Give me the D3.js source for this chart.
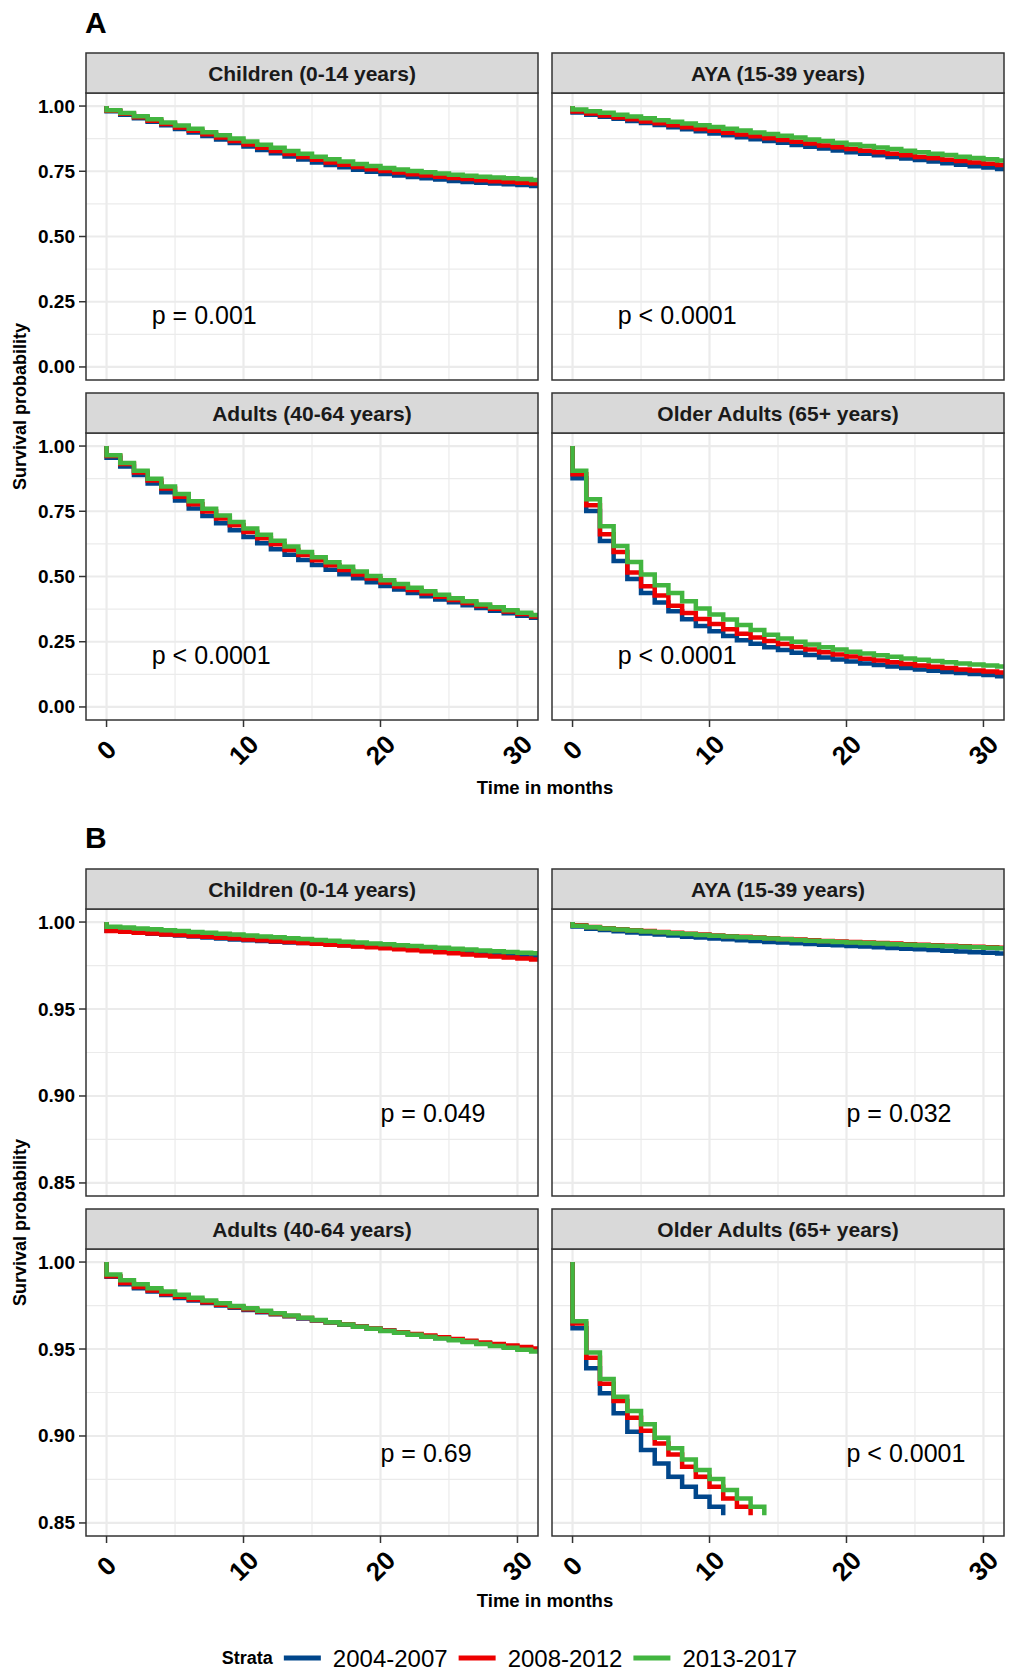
<!DOCTYPE html>
<html>
<head>
<meta charset="utf-8">
<script src="https://cdn.jsdelivr.net/npm/d3@7"></script>
<style>
  html, body { margin: 0; padding: 0; background: #fff; }
  svg { display: block; font-family: "Liberation Sans", Arial, Helvetica, sans-serif; }
</style>
</head>
<body>
<div id="chart"></div>
<script>
// Strata and facets
const strata = ['2004-2007', '2008-2012', '2013-2017']
const strataColors = ['#00468B', '#ED0000', '#42B540']
const groups = ['Children (0-14 years)', 'AYA (15-39 years)', 'Adults (40-64 years)', 'Older Adults (65+ years)']

// Panel A
const aChild04 = [.980, .967, .953, .940, .926, .912, .899, .885, .872, .858, .845, .832, .819, .807, .795, .784, .774, .765, .756, .748, .740, .734, .728, .723, .718, .713, .709, .706, .703, .700, .697, .694]
const aChild08 = [.982, .970, .957, .944, .931, .918, .905, .892, .879, .866, .853, .840, .828, .816, .805, .794, .784, .775, .766, .758, .751, .745, .739, .734, .729, .724, .720, .716, .712, .709, .706, .703]
const aChild13 = [.984, .973, .961, .949, .937, .925, .913, .900, .888, .876, .864, .852, .840, .828, .817, .806, .796, .787, .778, .770, .763, .757, .751, .746, .741, .737, .733, .729, .726, .723, .720, .717]

const aAya04 = [.975, .967, .959, .951, .943, .935, .927, .919, .911, .903, .895, .888, .880, .873, .866, .859, .851, .844, .837, .830, .823, .817, .811, .805, .799, .793, .787, .781, .775, .769, .764, .759]
const aAya08 = [.979, .971, .964, .956, .949, .941, .934, .926, .919, .912, .905, .898, .891, .884, .877, .870, .863, .856, .849, .842, .835, .829, .823, .817, .811, .805, .800, .794, .789, .784, .779, .774]
const aAya13 = [.987, .980, .974, .967, .960, .953, .946, .940, .933, .926, .920, .913, .906, .899, .893, .886, .879, .872, .866, .859, .853, .847, .841, .835, .829, .823, .817, .812, .806, .801, .796, .791]

const aAdult04 = [.955, .922, .889, .856, .823, .791, .761, .732, .704, .677, .651, .627, .604, .583, .563, .544, .526, .509, .493, .478, .464, .450, .437, .424, .412, .401, .390, .379, .369, .359, .350, .342]
const aAdult08 = [.962, .931, .899, .868, .837, .806, .777, .749, .722, .696, .671, .647, .624, .602, .582, .562, .543, .525, .508, .492, .477, .462, .448, .435, .422, .410, .398, .387, .376, .366, .356, .347]
const aAdult13 = [.965, .935, .905, .875, .845, .816, .788, .760, .734, .709, .684, .660, .637, .615, .594, .574, .555, .537, .519, .502, .486, .471, .457, .443, .430, .417, .405, .393, .382, .371, .361, .352]

const aOld04 = [.877, .751, .636, .559, .490, .437, .400, .367, .336, .310, .290, .272, .256, .242, .229, .218, .208, .199, .190, .182, .174, .167, .161, .155, .149, .144, .139, .134, .130, .126, .122, .118]
const aOld08 = [.892, .773, .662, .594, .515, .463, .427, .388, .360, .337, .318, .298, .281, .266, .253, .241, .230, .220, .210, .201, .193, .185, .178, .171, .165, .159, .154, .149, .144, .140, .136, .132]
const aOld13 = [.905, .796, .693, .617, .556, .508, .466, .437, .405, .377, .354, .335, .314, .295, .277, .262, .250, .239, .229, .220, .212, .205, .198, .192, .186, .181, .176, .171, .167, .163, .159, .155]

// Panel B
const bChild04 = [.9950, .9944, .9939, .9933, .9928, .9922, .9917, .9911, .9906, .9900, .9895, .9891, .9887, .9883, .9879, .9875, .9871, .9867, .9863, .9860, .9857, .9853, .9848, .9843, .9838, .9833, .9828, .9823, .9818, .9813, .9808, .9804]
const bChild08 = [.9948, .9944, .9939, .9934, .9929, .9925, .9920, .9915, .9910, .9905, .9900, .9895, .9890, .9885, .9880, .9875, .9870, .9865, .9860, .9855, .9850, .9844, .9838, .9832, .9826, .9820, .9814, .9808, .9802, .9796, .9790, .9785]
const bChild13 = [.9973, .9968, .9963, .9958, .9953, .9948, .9943, .9938, .9933, .9928, .9922, .9917, .9912, .9907, .9902, .9897, .9892, .9887, .9882, .9877, .9872, .9867, .9862, .9857, .9852, .9847, .9842, .9837, .9832, .9828, .9824, .9820]

const bAya04 = [.9975, .9962, .9954, .9947, .9940, .9934, .9928, .9922, .9916, .9911, .9906, .9901, .9896, .9891, .9886, .9882, .9878, .9874, .9870, .9866, .9863, .9859, .9855, .9851, .9847, .9843, .9839, .9835, .9831, .9827, .9823, .9819]
const bAya08 = [.9981, .9972, .9965, .9959, .9953, .9948, .9943, .9938, .9933, .9928, .9923, .9919, .9915, .9911, .9907, .9903, .9899, .9895, .9891, .9888, .9885, .9882, .9879, .9876, .9873, .9870, .9867, .9864, .9861, .9858, .9855, .9852]
const bAya13 = [.9979, .9970, .9963, .9957, .9951, .9946, .9941, .9936, .9931, .9926, .9921, .9917, .9913, .9909, .9905, .9901, .9897, .9893, .9889, .9885, .9882, .9879, .9876, .9873, .9870, .9867, .9864, .9861, .9858, .9855, .9852, .9849]

const bAdult04 = [.9915, .9873, .9850, .9830, .9811, .9794, .9779, .9764, .9750, .9737, .9724, .9712, .9700, .9688, .9676, .9664, .9652, .9640, .9629, .9617, .9606, .9595, .9584, .9574, .9563, .9553, .9543, .9533, .9523, .9513, .9503, .9494]
const bAdult08 = [.9918, .9880, .9856, .9836, .9817, .9800, .9784, .9769, .9755, .9741, .9728, .9715, .9702, .9690, .9678, .9666, .9654, .9642, .9630, .9618, .9607, .9597, .9587, .9577, .9567, .9557, .9547, .9538, .9529, .9520, .9511, .9503]
const bAdult13 = [.9929, .9896, .9872, .9850, .9830, .9812, .9795, .9779, .9763, .9748, .9734, .9720, .9706, .9693, .9680, .9667, .9654, .9641, .9628, .9616, .9604, .9593, .9582, .9571, .9561, .9551, .9540, .9529, .9518, .9507, .9496, .9486]

// curves below the axis floor are cut off, so these stop early
const bOld04 = [.9619, .9389, .9245, .9130, .9025, .8919, .8842, .8765, .8708, .8650, .8593, .8545]
const bOld08 = [.9647, .9450, .9300, .9201, .9105, .9030, .8957, .8894, .8823, .8765, .8708, .8641, .8593, .8545]
const bOld13 = [.9660, .9480, .9327, .9226, .9143, .9067, .8990, .8929, .8865, .8804, .8752, .8689, .8641, .8593, .8545]

const pvalsA = ['p = 0.001', 'p < 0.0001', 'p < 0.0001', 'p < 0.0001']
const pvalsB = ['p = 0.049', 'p = 0.032', 'p = 0.69', 'p < 0.0001']

const xTicks = [0, 10, 20, 30]
const xMinor = [5, 15, 25]
const yTicksA = [0, 0.25, 0.5, 0.75, 1]
const yMinorA = [0.125, 0.375, 0.625, 0.875]
const yTicksB = [0.85, 0.90, 0.95, 1.00]
const yMinorB = [0.875, 0.925, 0.975]

const W = 1009, H = 1677
const COL_X = [86, 552]
const PW = 452, PH = 287, STRIP_H = 40, ROW_STEP = 340
const FULL_END = 32

const sections = [
  {
    label: 'A', labelY: 33, top: 53, yDomain: [-0.05, 1.05], yTicks: yTicksA, yMinor: yMinorA,
    series: [[aChild04, aChild08, aChild13], [aAya04, aAya08, aAya13], [aAdult04, aAdult08, aAdult13], [aOld04, aOld08, aOld13]],
    pvals: pvalsA, pvalAt: [3.3, 0.2], xTitleY: 787
  },
  {
    label: 'B', labelY: 848, top: 869, yDomain: [0.8425, 1.0075], yTicks: yTicksB, yMinor: yMinorB,
    series: [[bChild04, bChild08, bChild13], [bAya04, bAya08, bAya13], [bAdult04, bAdult08, bAdult13], [bOld04, bOld08, bOld13]],
    pvals: pvalsB, pvalAt: [20, 0.89], xTitleY: 1600
  }
]

const svg = d3.select('#chart').append('svg').attr('width', W).attr('height', H)
svg.append('rect').attr('width', W).attr('height', H).attr('fill', '#fff')

const x = d3.scaleLinear().domain([-1.5, 31.5]).range([0, PW])

const line = d3.line()
  .x(d => x(d[0]))
  .curve(d3.curveStepAfter)

let clipId = 0

sections.forEach(sec => {
  const y = d3.scaleLinear().domain(sec.yDomain).range([PH, 0])
  line.y(d => y(d[1]))

  svg.append('text').attr('x', 85).attr('y', sec.labelY)
    .attr('font-size', 30).attr('font-weight', 'bold').attr('fill', '#000')
    .text(sec.label)

  groups.forEach((g, gi) => {
    const row = Math.floor(gi / 2), col = gi % 2
    const stripTop = sec.top + row * ROW_STEP
    const px = COL_X[col], py = stripTop + STRIP_H
    const pg = svg.append('g').attr('transform', `translate(${px},${py})`)

    // strip
    svg.append('rect').attr('x', px).attr('y', stripTop).attr('width', PW).attr('height', STRIP_H)
      .attr('fill', '#d9d9d9').attr('stroke', '#333').attr('stroke-width', 1.5)
    svg.append('text').attr('x', px + PW / 2).attr('y', stripTop + STRIP_H / 2)
      .attr('text-anchor', 'middle').attr('dominant-baseline', 'central')
      .attr('font-size', 21).attr('font-weight', 'bold').attr('fill', '#1a1a1a')
      .text(g)

    // grid
    xMinor.forEach(t => pg.append('line').attr('x1', x(t)).attr('x2', x(t)).attr('y1', 0).attr('y2', PH)
      .attr('stroke', '#ebebeb').attr('stroke-width', 1.2))
    sec.yMinor.forEach(v => pg.append('line').attr('x1', 0).attr('x2', PW).attr('y1', y(v)).attr('y2', y(v))
      .attr('stroke', '#ebebeb').attr('stroke-width', 1.2))
    xTicks.forEach(t => pg.append('line').attr('x1', x(t)).attr('x2', x(t)).attr('y1', 0).attr('y2', PH)
      .attr('stroke', '#ebebeb').attr('stroke-width', 2.2))
    sec.yTicks.forEach(v => pg.append('line').attr('x1', 0).attr('x2', PW).attr('y1', y(v)).attr('y2', y(v))
      .attr('stroke', '#ebebeb').attr('stroke-width', 2.2))

    // curves
    const cid = 'clip' + (clipId++)
    svg.append('defs').append('clipPath').attr('id', cid)
      .append('rect').attr('width', PW).attr('height', PH)
    const cg = pg.append('g').attr('clip-path', `url(#${cid})`)
    sec.series[gi].forEach((vals, si) => {
      const pts = [[0, 1]].concat(vals.map((v, i) => [i, v]))
      if (vals.length >= FULL_END) pts.push([FULL_END, vals[vals.length - 1]])
      cg.append('path').attr('d', line(pts))
        .attr('fill', 'none').attr('stroke', strataColors[si])
        .attr('stroke-width', 4.5).attr('stroke-linejoin', 'miter').attr('stroke-linecap', 'butt')
    })

    // p value
    pg.append('text').attr('x', x(sec.pvalAt[0])).attr('y', y(sec.pvalAt[1]))
      .attr('dominant-baseline', 'central').attr('font-size', 25).attr('fill', '#000')
      .text(sec.pvals[gi])

    // border
    pg.append('rect').attr('width', PW).attr('height', PH)
      .attr('fill', 'none').attr('stroke', '#333').attr('stroke-width', 1.5)

    // y axis on left column
    if (col === 0) {
      sec.yTicks.forEach(v => {
        pg.append('line').attr('x1', -7).attr('x2', 0).attr('y1', y(v)).attr('y2', y(v))
          .attr('stroke', '#333').attr('stroke-width', 1.5)
        pg.append('text').attr('x', -11).attr('y', y(v))
          .attr('text-anchor', 'end').attr('dominant-baseline', 'central')
          .attr('font-size', 19).attr('font-weight', 'bold').attr('fill', '#000')
          .text(d3.format('.2f')(v))
      })
    }

    // x axis on bottom row
    if (row === 1) {
      xTicks.forEach(t => {
        pg.append('line').attr('x1', x(t)).attr('x2', x(t)).attr('y1', PH).attr('y2', PH + 7)
          .attr('stroke', '#333').attr('stroke-width', 1.5)
        pg.append('text')
          .attr('transform', `translate(${x(t)},${PH + 30}) rotate(-45)`)
          .attr('text-anchor', 'middle').attr('dominant-baseline', 'central')
          .attr('font-size', 26).attr('font-weight', 'bold').attr('fill', '#000')
          .text(t)
      })
    }
  })

  // axis titles
  const yTop = sec.top + STRIP_H, yBot = sec.top + ROW_STEP + STRIP_H + PH
  svg.append('text')
    .attr('transform', `translate(20,${(yTop + yBot) / 2}) rotate(-90)`)
    .attr('text-anchor', 'middle').attr('dominant-baseline', 'central')
    .attr('font-size', 18).attr('font-weight', 'bold').attr('fill', '#000')
    .text('Survival probability')
  svg.append('text').attr('x', (COL_X[0] + COL_X[1] + PW) / 2).attr('y', sec.xTitleY)
    .attr('text-anchor', 'middle').attr('dominant-baseline', 'central')
    .attr('font-size', 18.5).attr('font-weight', 'bold').attr('fill', '#000')
    .text('Time in months')
})

// legend
const leg = svg.append('g')
const LEG_Y = 1658
let lx = 0
leg.append('text').attr('x', lx).attr('y', LEG_Y).attr('dominant-baseline', 'central')
  .attr('font-size', 18).attr('font-weight', 'bold').text('Strata')
lx += leg.select('text').node().getComputedTextLength() + 11
strata.forEach((s, i) => {
  leg.append('line').attr('x1', lx).attr('x2', lx + 37).attr('y1', LEG_Y).attr('y2', LEG_Y)
    .attr('stroke', strataColors[i]).attr('stroke-width', 5)
  lx += 49
  const t = leg.append('text').attr('x', lx).attr('y', LEG_Y).attr('dominant-baseline', 'central')
    .attr('font-size', 24).attr('fill', '#000').text(s)
  lx += t.node().getComputedTextLength() + 11
})
const legW = lx - 11
leg.attr('transform', `translate(${(W - legW) / 2 + 5},0)`)
</script>
</body>
</html>
